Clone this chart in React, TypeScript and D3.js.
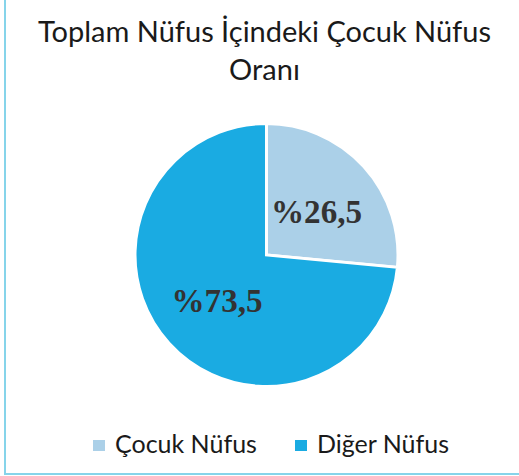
import React from "react";
import * as d3 from "d3";

const categories = ["Çocuk Nüfus", "Diğer Nüfus"];
const values = [26.5, 73.5];
const labels = ["%26,5", "%73,5"];
const colors = ["#abd0e8", "#1aabe2"];
const titleLines = ["Toplam Nüfus İçindeki Çocuk Nüfus", "Oranı"];

export default function App() {
  const W = 519, H = 476;
  const cx = 266.5, cy = 255, r = 131.5;
  const pie = d3.pie<number>().sort(null).value((d) => d);
  const arcs = pie(values);
  const arc = d3.arc<d3.PieArcDatum<number>>().innerRadius(0).outerRadius(r);
  const labelPos = [
    [316.5, 223],
    [217, 312],
  ];
  const legendX = [93, 295];
  return (
    <svg width={W} height={H} style={{ position: "absolute", left: 0, top: 0 }}>
      <rect x={0} y={0} width={W} height={H} fill="#fff" />
      <rect x={5} y={-5} width={W + 10} height={474 + 5} fill="#fff" stroke="#86d4ea" strokeWidth={2} />
      {titleLines.map((t, i) => (
        <text
          key={i}
          x={264.5}
          y={42 + i * 38}
          textAnchor="middle"
          fontFamily="Lato, 'Open Sans', sans-serif"
          fontSize={29}
          fill="#1a1a1a"
          textLength={i === 0 ? 453 : undefined}
          lengthAdjust="spacingAndGlyphs"
        >
          {t}
        </text>
      ))}
      <g transform={`translate(${cx},${cy})`}>
        {arcs.map((a, i) => (
          <path key={i} d={arc(a) || ""} fill={colors[i]} stroke="#fff" strokeWidth={3} />
        ))}
      </g>
      {labels.map((l, i) => (
        <text
          key={i}
          x={labelPos[i][0]}
          y={labelPos[i][1]}
          textAnchor="middle"
          fontFamily="'Liberation Serif', 'Times New Roman', serif"
          fontWeight="bold"
          fontSize={34}
          fill="#333"
          textLength={91}
          lengthAdjust="spacingAndGlyphs"
        >
          {l}
        </text>
      ))}
      {categories.map((c, i) => (
        <g key={i}>
          <rect x={legendX[i]} y={440} width={12} height={11} fill={colors[i]} />
          <text
            x={legendX[i] + 22}
            y={453}
            fontFamily="Lato, 'Open Sans', sans-serif"
            fontSize={25}
            fill="#1a1a1a"
          >
            {c}
          </text>
        </g>
      ))}
    </svg>
  );
}
